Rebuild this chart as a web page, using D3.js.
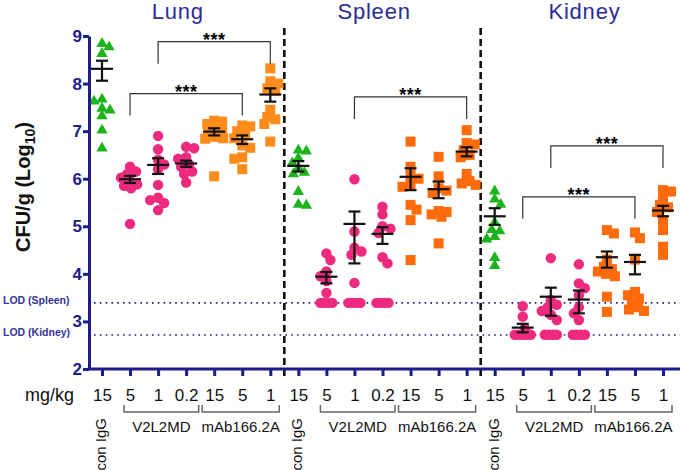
<!DOCTYPE html>
<html><head><meta charset="utf-8">
<script src="https://cdn.jsdelivr.net/npm/d3@7"></script>
<style>
html,body{margin:0;padding:0;background:#fff;}
svg{display:block;font-family:Arial,"Liberation Sans",sans-serif;}
</style></head>
<body><svg id="c" width="680" height="470"></svg>
<script>
// ---------------- DATA ----------------
const panels = ["Lung", "Spleen", "Kidney"];
const doseLabels = ["15", "5", "1", "0.2", "15", "5", "1"];
const treatments = ["con IgG", "V2L2MD", "V2L2MD", "V2L2MD", "mAb166.2A", "mAb166.2A", "mAb166.2A"];
const yTicks = [2, 3, 4, 5, 6, 7, 8, 9];

const lungValues = [
  [8.86, 8.79, 8.65, 7.69, 7.65, 7.5, 7.46, 7.34, 7.04, 6.66],
  [6.25, 6.15, 6.1, 6.02, 5.95, 5.88, 5.85, 5.8, 5.05],
  [6.9, 6.62, 6.4, 6.3, 6.2, 5.87, 5.6, 5.55, 5.49, 5.34],
  [6.67, 6.64, 6.45, 6.42, 6.3, 6.25, 6.15, 6.1, 5.92],
  [7.22, 7.2, 7.15, 7.05, 7.0, 6.95, 6.88, 6.85, 6.84, 6.05],
  [7.12, 7.1, 7.0, 6.95, 6.85, 6.7, 6.65, 6.45, 6.42, 6.2],
  [8.32, 8.05, 8.0, 7.9, 7.85, 7.45, 7.3, 7.25, 7.15, 6.78]
];
const spleenValues = [
  [6.62, 6.6, 6.45, 6.35, 6.25, 6.15, 6.12, 5.75, 5.48, 5.46],
  [4.43, 4.29, 4.05, 3.95, 3.85, 3.6, 3.39, 3.39, 3.39, 3.39],
  [5.99, 4.89, 4.55, 4.47, 4.4, 3.81, 3.39, 3.39, 3.39, 3.39],
  [5.41, 5.25, 5.0, 4.95, 4.86, 4.35, 4.22, 3.39, 3.39, 3.39, 3.39],
  [6.78, 6.25, 6.05, 6.0, 5.85, 5.83, 5.45, 5.35, 5.13, 4.29],
  [6.46, 6.05, 5.8, 5.75, 5.7, 5.32, 5.3, 5.25, 5.2, 4.64],
  [7.02, 6.75, 6.72, 6.6, 6.5, 6.45, 6.1, 5.95, 5.9, 5.87]
];
const kidneyValues = [
  [5.76, 5.59, 5.48, 5.1, 4.95, 4.92, 4.8, 4.75, 4.36, 4.19],
  [3.32, 3.1, 2.85, 2.72, 2.72, 2.72, 2.72, 2.72],
  [4.33, 3.45, 3.35, 3.3, 3.22, 3.14, 3.03, 2.72, 2.72, 2.72, 2.72],
  [4.2, 3.8, 3.7, 3.55, 3.3, 3.17, 3.03, 2.72, 2.72, 2.72, 2.72],
  [4.92, 4.85, 4.3, 4.15, 4.1, 4.05, 4.0, 3.95, 3.52, 3.2],
  [4.87, 4.75, 4.3, 3.62, 3.55, 3.48, 3.4, 3.3, 3.25, 3.22],
  [5.76, 5.73, 5.6, 5.45, 5.4, 5.3, 5.13, 4.92, 4.57, 4.4]
];

const lungMean   = [8.31, 5.99, 6.29, 6.32, 6.99, 6.83, 7.77];
const lungLow    = [8.06, 5.91, 6.10, 6.25, 6.91, 6.73, 7.62];
const lungHigh   = [8.48, 6.06, 6.43, 6.38, 7.06, 6.91, 7.90];
const spleenMean = [6.27, 3.94, 5.05, 4.84, 6.04, 5.78, 6.57];
const spleenLow  = [6.15, 3.80, 4.22, 4.63, 5.76, 5.59, 6.47];
const spleenHigh = [6.37, 4.04, 5.31, 4.98, 6.22, 5.94, 6.66];
const kidneyMean = [5.21, 2.87, 3.52, 3.46, 4.35, 4.25, 5.33];
const kidneyLow  = [5.03, 2.77, 3.12, 3.17, 4.13, 3.99, 5.21];
const kidneyHigh = [5.38, 2.95, 3.71, 3.65, 4.47, 4.40, 5.43];

const lodNames = ["LOD (Spleen)", "LOD (Kidney)"];
const lodValues = [3.39, 2.715];

const compPanel = [0, 0, 1, 2, 2];
const compFrom  = [2, 1, 2, 2, 1];
const compTo    = [6, 5, 6, 6, 5];
const compTop   = [8.88, 7.79, 7.72, 6.69, 5.62];
const compLabel = ["***", "***", "***", "***", "***"];

// ---------------- LAYOUT ----------------
const NAVY = "#1c1c8a";
const svg = d3.select("#c");
const x = d3.scaleLinear().domain([0, 20]).range([102, 663]);
const y = d3.scaleLinear().domain([2, 9]).range([369, 36]);
const axisX = 89;

const allValues = [lungValues, spleenValues, kidneyValues];
const allMean = [lungMean, spleenMean, kidneyMean];
const allLow = [lungLow, spleenLow, kidneyLow];
const allHigh = [lungHigh, spleenHigh, kidneyHigh];
const orange = ["#ff8c1a", "#ff6a0a", "#ff6a0a"];
const markerFor = t => t === "con IgG" ? {sym: d3.symbolTriangle, size: 56, fill: "#1cb41c"}
  : t === "V2L2MD" ? {sym: d3.symbolCircle, size: 86, fill: "#ee2a7e"}
  : {sym: d3.symbolSquare, size: 100, fill: null};

// LOD lines
lodValues.forEach((v, i) => {
  svg.append("line").attr("x1", 94).attr("x2", 680).attr("y1", y(v)).attr("y2", y(v))
    .attr("stroke", NAVY).attr("stroke-width", 1.6).attr("stroke-dasharray", "1.6,4.2");
  svg.append("text").attr("x", 3).attr("y", y(v) + 1).text(lodNames[i])
    .attr("font-size", 10.5).attr("font-weight", "bold").attr("fill", "#33339a");
});

// separators
[6.5, 13.5].forEach(i => {
  svg.append("line").attr("x1", x(i)).attr("x2", x(i)).attr("y1", 28).attr("y2", 376)
    .attr("stroke", "#111").attr("stroke-width", 2.6).attr("stroke-dasharray", "7,4");
});

// swarm layout (compact, GraphPad-like)
function swarm(values, cx) {
  const counts = d3.rollup(values, v => v.length, d => d);
  const placed = [];
  for (const [v, n] of counts) {
    if (n > 1) for (let j = 0; j < n; j++) placed.push({v, px: cx + (j - (n - 1) / 2) * 4, py: y(v)});
  }
  const singles = values.filter(v => counts.get(v) === 1).sort(d3.descending);
  let side = 1;
  const minD = 7.5, maxOff = 9;
  singles.forEach(v => {
    const py = y(v);
    let best = null, bestScore = -1;
    for (let k = 0; k <= 2 * maxOff; k++) {
      const off = k === 0 ? 0 : Math.ceil(k / 2) * (k % 2 ? side : -side);
      const dmin = placed.length ? d3.min(placed, p => Math.hypot(p.px - (cx + off), p.py - py)) : 99;
      if (dmin >= minD) { best = off; break; }
      if (dmin > bestScore) { bestScore = dmin; best = off; }
    }
    if (best !== 0) side = -Math.sign(best);
    placed.push({v, px: cx + best, py});
  });
  return placed;
}

panels.forEach((pname, p) => {
  allValues[p].forEach((vals, g) => {
    const idx = p * 7 + g;
    const m = markerFor(treatments[g]);
    const fill = m.fill || orange[p];
    const pts = swarm(vals, x(idx));
    svg.append("g").selectAll("path").data(pts).join("path")
      .attr("d", d3.symbol(m.sym, m.size))
      .attr("transform", d => `translate(${d.px},${d.py + (m.sym === d3.symbolTriangle ? 1 : 0)})`)
      .attr("fill", fill);
  });
  // error bars
  allMean[p].forEach((mv, g) => {
    const cx = x(p * 7 + g);
    const eg = svg.append("g").attr("stroke", "#111").attr("stroke-width", 2.2);
    eg.append("line").attr("x1", cx).attr("x2", cx).attr("y1", y(allHigh[p][g])).attr("y2", y(allLow[p][g]));
    eg.append("line").attr("x1", cx - 11).attr("x2", cx + 11).attr("y1", y(mv)).attr("y2", y(mv));
    [allHigh[p][g], allLow[p][g]].forEach(b =>
      eg.append("line").attr("x1", cx - 6).attr("x2", cx + 6).attr("y1", y(b)).attr("y2", y(b)));
  });
});

// titles
const titleIdx = [2.7, 9.7, 17.2];
panels.forEach((t, p) => {
  svg.append("text").attr("x", x(titleIdx[p])).attr("y", 19).attr("text-anchor", "middle")
    .attr("font-size", 22).attr("letter-spacing", 0.8).attr("fill", "#2b2b98").text(t);
});

// comparisons
compPanel.forEach((p, i) => {
  const x1 = x(p * 7 + compFrom[i]), x2 = x(p * 7 + compTo[i]), yt = y(compTop[i]);
  svg.append("path").attr("d", `M${x1},${yt + 22}V${yt}H${x2}V${yt + 22}`)
    .attr("fill", "none").attr("stroke", "#333").attr("stroke-width", 1.2);
  svg.append("text").attr("x", (x1 + x2) / 2).attr("y", yt + 4).attr("text-anchor", "middle")
    .attr("font-size", 18).attr("font-weight", "bold").attr("letter-spacing", 0.5).text(compLabel[i]);
});

// y axis
const ya = svg.append("g").attr("transform", `translate(${axisX},0)`)
  .call(d3.axisLeft(y).tickValues(yTicks).tickSize(6).tickSizeOuter(0).tickPadding(1).tickFormat(d3.format("d")));
ya.select(".domain").attr("stroke", NAVY).attr("stroke-width", 3);
ya.selectAll(".tick line").attr("stroke", NAVY).attr("stroke-width", 3);
ya.selectAll(".tick text").attr("fill", NAVY).attr("font-size", 17).attr("font-weight", "bold")
  .attr("font-family", "Arial,'Liberation Sans',sans-serif");

// x axis
const tickIdx = d3.range(21);
const xa = svg.append("g").attr("transform", `translate(0,${y(2)})`)
  .call(d3.axisBottom(x).tickValues(tickIdx).tickSize(7).tickFormat(i => doseLabels[i % 7]));
xa.select(".domain").remove();
xa.selectAll(".tick line").attr("stroke", NAVY).attr("stroke-width", 3);
xa.selectAll(".tick text").attr("y", 32).attr("dy", 0).attr("fill", "#111").attr("font-size", 17)
  .attr("font-family", "Arial,'Liberation Sans',sans-serif");
svg.append("line").attr("x1", axisX - 1.5).attr("x2", 680).attr("y1", y(2)).attr("y2", y(2))
  .attr("stroke", NAVY).attr("stroke-width", 3);

svg.append("text").attr("x", 25).attr("y", 401).attr("font-size", 18).attr("fill", "#111").text("mg/kg");

// group brackets & labels
panels.forEach((pn, p) => {
  const base = p * 7;
  svg.append("g").attr("transform", `translate(${x(base) + 4},418) rotate(-90)`)
    .append("text").attr("text-anchor", "end").attr("font-size", 15).attr("fill", "#111").text(treatments[0]);
  const groups = [[1, 3, treatments[1]], [4, 6, treatments[4]]];
  groups.forEach(([a, b, name], k) => {
    const xl = k === 0 ? x(base + a) - 6 : x(base + 3.5) + 2;
    const xr = k === 0 ? x(base + 3.5) - 1.5 : x(base + b) + 9;
    svg.append("path").attr("d", `M${xl},405V412H${xr}V405`).attr("fill", "none")
      .attr("stroke", "#666").attr("stroke-width", 1.5);
    svg.append("text").attr("x", (xl + xr) / 2).attr("y", 432).attr("text-anchor", "middle")
      .attr("font-size", 15).attr("fill", "#111").text(name);
  });
});

// y label
svg.append("text").attr("transform", "translate(30,187) rotate(-90)").attr("text-anchor", "middle")
  .attr("font-size", 20).attr("font-weight", "bold").attr("fill", "#111")
  .html('CFU/g (Log<tspan font-size="14" dy="5">10</tspan><tspan dy="-5">)</tspan>');
</script></body></html>
